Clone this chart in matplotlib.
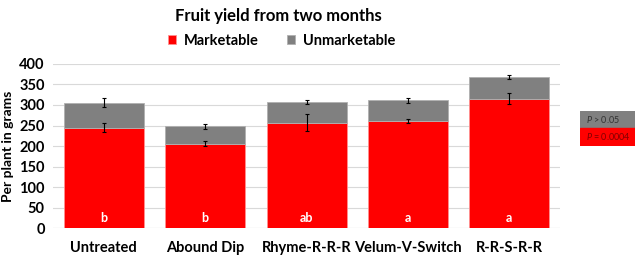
import matplotlib.pyplot as plt
import numpy as np

plt.rcParams['font.family'] = ['Lato', 'DejaVu Sans']
plt.rcParams['mathtext.fontset'] = 'custom'
plt.rcParams['mathtext.it'] = 'Lato:italic'

treatments = ['Untreated', 'Abound Dip', 'Rhyme-R-R-R', 'Velum-V-Switch', 'R-R-S-R-R']
marketable = [245, 206, 257, 261, 315]
marketable_err = [12, 6, 20, 5, 13]
total = [305, 248, 307, 311, 368]
total_err = [11, 6, 4, 5, 5]
letters = ['b', 'b', 'ab', 'a', 'a']

unmarketable = [t - m for t, m in zip(total, marketable)]
x = np.arange(len(treatments))

fig = plt.figure(figsize=(6.4, 2.61), dpi=100)
ax = fig.add_axes([0.083, 0.126, 0.792, 0.629])

red = '#ff0000'
grey = '#808080'
ax.bar(x, marketable, width=0.79, color=red, edgecolor='#ff9090', linewidth=0.6,
       label='Marketable', zorder=2)
ax.bar(x, unmarketable, width=0.79, bottom=marketable, color=grey, edgecolor='#b0b0b0',
       linewidth=0.6, label='Unmarketable', zorder=2)
ax.errorbar(x, marketable, yerr=marketable_err, fmt='none', ecolor='black',
            elinewidth=0.8, capsize=1.5, capthick=0.8, zorder=3)
ax.errorbar(x, total, yerr=total_err, fmt='none', ecolor='black',
            elinewidth=0.8, capsize=1.5, capthick=0.8, zorder=3)

for xi, lt in zip(x, letters):
    ax.text(xi, 25, lt, color='white', fontweight='bold', fontsize=9,
            ha='center', va='center', zorder=4)

ax.set_xlim(-0.5, 4.5)
ax.set_ylim(0, 400)
ax.set_yticks(range(0, 401, 50))
ax.set_xticks(x)
ax.set_xticklabels(treatments, fontweight='bold', fontsize=10.5)
for lab in ax.get_yticklabels():
    lab.set_fontweight('bold')
    lab.set_fontsize(10.5)
ax.tick_params(length=0, pad=6)
ax.tick_params(axis='x', pad=9)
ax.yaxis.grid(True, color='#d9d9d9', linewidth=0.8, zorder=0)
for s in ax.spines.values():
    s.set_visible(False)
ax.axhline(0, color='#d9d9d9', linewidth=0.8, zorder=1)
ax.set_ylabel('Per plant in grams', fontweight='bold', fontsize=10, labelpad=4)

fig.text(0.435, 0.94, 'Fruit yield from two months', ha='center', va='center',
         fontsize=12, fontweight='bold')
fig.legend(loc='center', bbox_to_anchor=(0.44, 0.843), ncol=2, frameon=False,
           prop={'weight': 'bold', 'size': 10.5}, handlelength=0.55,
           handleheight=0.55, columnspacing=2.0, handletextpad=0.5)

# p-value boxes
bax = fig.add_axes([0.907, 0.442, 0.085, 0.133])
bax.set_xlim(0, 1)
bax.set_ylim(0, 2)
bax.axis('off')
bax.add_patch(plt.Rectangle((0, 1), 1, 1, color=grey))
bax.add_patch(plt.Rectangle((0, 0), 1, 1, color=red))
bax.text(0.1, 1.5, r'$P$ > 0.05', color='#333333', fontsize=6.5, va='center')
bax.text(0.1, 0.5, r'$P$ = 0.0004', color='#800000', fontsize=6.5, va='center')

fig.savefig('out.png', dpi=100)
